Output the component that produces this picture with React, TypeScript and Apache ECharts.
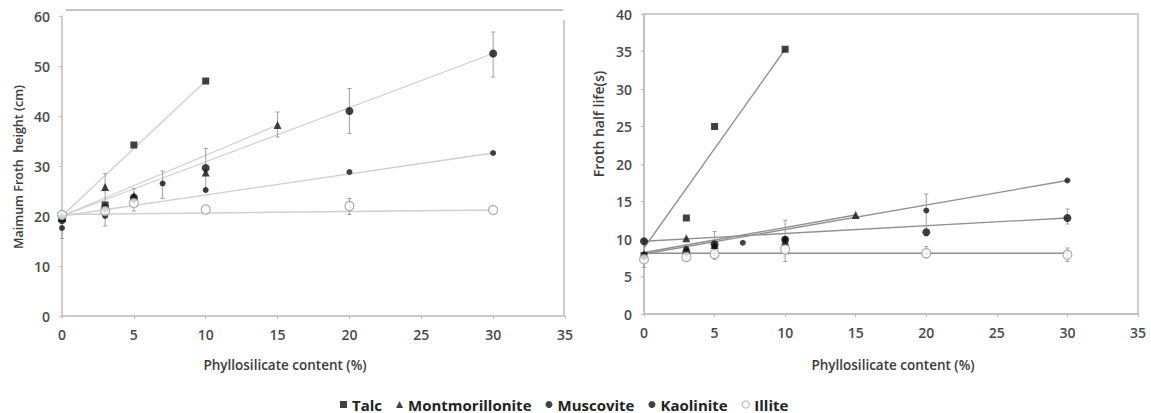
import React, { useEffect, useRef } from "react";
import * as echarts from "echarts";

const seriesNames = ["Talc", "Montmorillonite", "Muscovite", "Kaolinite", "Illite"];
const xTicks = [0, 5, 10, 15, 20, 25, 30, 35];

// Left chart: Maximum froth height (cm)
const hTalc = [[0, 19.5], [3, 22.2], [5, 34.2], [10, 47]];
const hMont = [[0, 19.8], [3, 25.8], [5, 24.0], [10, 28.7], [15, 38.2]];
const hMusc = [[0, 17.6], [3, 20.0], [5, 23.2], [7, 26.5], [10, 25.2], [20, 28.8], [30, 32.6]];
const hKaol = [[0, 19.2], [3, 21.6], [5, 23.7], [10, 29.6], [20, 41], [30, 52.5]];
const hIllite = [[0, 20.2], [3, 21.0], [5, 22.6], [10, 21.3], [20, 22], [30, 21.2]];
const hTrendTalc = [[0, 20], [10, 47]];
const hTrendMont = [[0, 20], [15, 38.2]];
const hTrendMusc = [[0, 20], [30, 32.6]];
const hTrendKaol = [[0, 20], [30, 52.5]];
const hTrendIllite = [[0, 20.3], [30, 21.2]];
const hErr = [[0, 15.5, 20.5], [3, 18, 28.5], [5, 21, 25.5], [7, 23.5, 29], [10, 25, 33.5], [15, 35.8, 40.8], [20, 36.5, 45.5], [20, 20.3, 23.5], [30, 47.8, 56.8]];

// Right chart: Froth half life (s)
const lTalc = [[0, 7.8], [3, 12.8], [5, 25], [10, 35.3]];
const lMont = [[0, 8.0], [3, 10.1], [5, 9.2], [10, 9.7], [15, 13.2]];
const lMusc = [[0, 7.6], [3, 8.7], [5, 9.0], [7, 9.5], [10, 10.0], [20, 13.8], [30, 17.8]];
const lKaol = [[0, 9.7], [3, 8.3], [5, 9.3], [10, 9.9], [20, 10.9], [30, 12.8]];
const lIllite = [[0, 7.3], [3, 7.6], [5, 8.0], [10, 8.6], [20, 8.1], [30, 7.9]];
const lTrendTalc = [[0, 8.8], [10, 35.3]];
const lTrendMont = [[0, 8.2], [15, 13.2]];
const lTrendMusc = [[0, 8.0], [30, 17.8]];
const lTrendKaol = [[0, 9.7], [30, 12.8]];
const lTrendIllite = [[0, 8.1], [30, 8.1]];
const lErr = [[0, 6.2, 9.8], [3, 7, 9.2], [5, 7.3, 11], [10, 7, 12.5], [20, 10.5, 16], [20, 7.5, 9], [30, 12, 14], [30, 7, 8.8]];

const FONT = "'Open Sans', 'Noto Sans', sans-serif";

const markerStyles = [
  { symbol: "rect", symbolSize: 7, itemStyle: { color: "#111" } },
  { symbol: "triangle", symbolSize: 8, itemStyle: { color: "#111" } },
  { symbol: "circle", symbolSize: 6, itemStyle: { color: "#111" } },
  { symbol: "circle", symbolSize: 8, itemStyle: { color: "#111" } },
  { symbol: "circle", symbolSize: 9, itemStyle: { color: "#fff", borderColor: "#9a9a9a", borderWidth: 1.2 } },
];

function makeAxes(gridIndex: number, yMax: number, yInterval: number) {
  const axisLine = { show: true, lineStyle: { color: "#bdbdbd", width: 1.5 } };
  const label = { color: "#4a4a4a", fontFamily: FONT, fontSize: 14, fontWeight: 600 };
  return {
    x: {
      type: "value", gridIndex, min: 0, max: 35, interval: 5,
      axisLine, axisTick: { show: true, length: 3, lineStyle: { color: "#bdbdbd" } },
      splitLine: { show: false },
      axisLabel: { ...label, margin: 11, formatter: (v: number) => (xTicks.includes(v) ? String(v) : "") },
    },
    y: {
      type: "value", gridIndex, min: 0, max: yMax, interval: yInterval,
      axisLine, axisTick: { show: true, length: 3, lineStyle: { color: "#bdbdbd" } },
      splitLine: { show: false },
      axisLabel: { ...label, margin: 12 },
    },
  };
}

function buildSeries(idx: number, pts: number[][][], trends: number[][][], err: number[][], lineColor: string) {
  const out: any[] = [];
  trends.forEach((t) => {
    out.push({
      type: "line", xAxisIndex: idx, yAxisIndex: idx, data: t, symbol: "none",
      lineStyle: { color: lineColor, width: 1.3 }, silent: true, z: 1,
    });
  });
  out.push({
    type: "custom", xAxisIndex: idx, yAxisIndex: idx, data: err, z: 2, silent: true,
    renderItem: (params: any, api: any) => {
      const x = api.value(0);
      const p1 = api.coord([x, api.value(1)]);
      const p2 = api.coord([x, api.value(2)]);
      const st = { stroke: "#a0a0a0", lineWidth: 1 };
      return {
        type: "group",
        children: [
          { type: "line", shape: { x1: p1[0], y1: p1[1], x2: p2[0], y2: p2[1] }, style: st },
          { type: "line", shape: { x1: p1[0] - 2, y1: p1[1], x2: p1[0] + 2, y2: p1[1] }, style: st },
          { type: "line", shape: { x1: p2[0] - 2, y1: p2[1], x2: p2[0] + 2, y2: p2[1] }, style: st },
        ],
      };
    },
  });
  pts.forEach((d, i) => {
    out.push({
      type: "scatter", name: seriesNames[i], xAxisIndex: idx, yAxisIndex: idx, data: d, z: 3,
      ...markerStyles[i],
    });
  });
  return out;
}

export default function App() {
  const ref = useRef<HTMLDivElement>(null);
  useEffect(() => {
    if (!ref.current) return;
    const chart = echarts.init(ref.current, null, { renderer: "svg" });
    const a0 = makeAxes(0, 60, 10);
    const a1 = makeAxes(1, 40, 5);
    const fill = "#3a3a3a";
    chart.setOption({
      animation: false,
      backgroundColor: "#ffffff",
      grid: [
        { left: 62, top: 16, width: 503, height: 300 },
        { left: 644, top: 14, width: 494, height: 300, show: true, borderColor: "#bdbdbd", borderWidth: 1.5, backgroundColor: "transparent" },
      ],
      xAxis: [a0.x, a1.x],
      yAxis: [a0.y, a1.y],
      legend: {
        data: seriesNames.map((n, i) => ({
          name: n,
          icon: ["rect", "triangle", "circle", "circle", "circle"][i],
          itemStyle: i === 4 ? { color: "#ffffff", borderColor: "#b0b0b0", borderWidth: 1.2 } : { color: "#111" },
        })),
        left: 335, top: 392, itemWidth: 7, itemHeight: 7, itemGap: 14,
        textStyle: { color: "#222", fontFamily: FONT, fontSize: 15, fontWeight: 700 },
        selectedMode: false,
      },
      graphic: [
        { type: "line", shape: { x1: 66, y1: 10, x2: 563, y2: 10 }, style: { stroke: "#c4c4c4", lineWidth: 2 } },
        { type: "line", shape: { x1: 564, y1: 20, x2: 564, y2: 316 }, style: { stroke: "#bdbdbd", lineWidth: 1.5 } },
        { type: "text", x: 285, y: 365, style: { text: "Phyllosilicate content (%)", textAlign: "center", textVerticalAlign: "middle", fill, font: `600 13.5px ${FONT}` } },
        { type: "text", x: 893, y: 365, style: { text: "Phyllosilicate content (%)", textAlign: "center", textVerticalAlign: "middle", fill, font: `600 13.5px ${FONT}` } },
        { type: "text", x: 18, y: 167, rotation: Math.PI / 2, style: { text: "Maimum Froth  height (cm)", textAlign: "center", textVerticalAlign: "middle", fill, font: `600 12.5px ${FONT}` } },
        { type: "text", x: 598, y: 124, rotation: Math.PI / 2, style: { text: "Froth half life(s)", textAlign: "center", textVerticalAlign: "middle", fill, font: `600 14px ${FONT}` } },
      ],
      series: [
        ...buildSeries(0, [hTalc, hMont, hMusc, hKaol, hIllite], [hTrendTalc, hTrendMont, hTrendMusc, hTrendKaol, hTrendIllite], hErr, "#cfcfcf"),
        ...buildSeries(1, [lTalc, lMont, lMusc, lKaol, lIllite], [lTrendTalc, lTrendMont, lTrendMusc, lTrendKaol, lTrendIllite], lErr, "#8f8f8f"),
      ],
    });
    return () => chart.dispose();
  }, []);
  return <div ref={ref} style={{ position: "fixed", left: 0, top: 0, width: 1151, height: 413 }} />;
}
